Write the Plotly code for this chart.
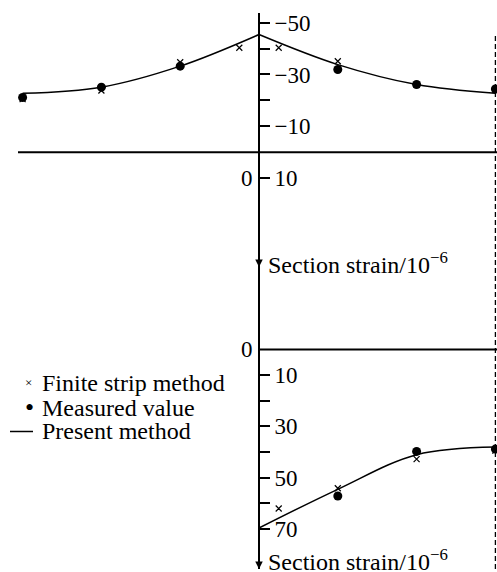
import plotly.graph_objects as go

# ---------------- data (strain, 10^-6; negative = compression) ----------------
# positions across the flange (web at 0)
top_present_left_x = [-3, -2, -1, 0]
top_present_left = [-22.7, -25.1, -33.2, -45.4]
top_present_right_x = [0, 1, 2, 3]
top_present_right = [-45.4, -33.8, -26.1, -22.7]

top_fsm_x = [-3, -2, -1, -0.25, 0.25, 1, 2, 3]
top_fsm = [-20.5, -23.8, -34.7, -40.3, -40.3, -35.1, -26.0, -24.0]

top_meas_x = [-3, -2, -1, 1, 2, 3]
top_meas = [-21.1, -25.1, -33.2, -31.9, -26.1, -24.4]

bot_present_x = [0, 1, 2, 3]
bot_present = [69.7, 54.6, 41.1, 38.1]

bot_fsm_x = [0.25, 1, 2, 3]
bot_fsm = [62.1, 54.2, 42.8, 39.5]

bot_meas_x = [1, 2, 3]
bot_meas = [57.2, 39.8, 38.9]

top_tickvals = [-50, -40, -30, -20, -10, 10]
top_ticktext = ["\u221250", "", "\u221230", "", "\u221210", "10"]
bot_tickvals = [10, 20, 30, 40, 50, 60, 70]
bot_ticktext = ["10", "", "30", "", "50", "", "70"]

legend_labels = ["Finite strip method", "Measured value", "Present method"]
axis_label = "Section strain/10<sup>\u22126</sup>"

# ---------------- layout geometry ----------------
W, H = 497, 572
WEB_PX = 259.0
UNIT_PX = 78.8
xr = [-WEB_PX / UNIT_PX, (W - WEB_PX) / UNIT_PX]

TOP_ZERO_PX, TOP_SCALE = 150.7, 2.6      # px per strain unit
BOT_ZERO_PX, BOT_SCALE = 348.7, 2.57
AX_TOP_PX, AX_MID_PX, AX_BOT_PX = 11, 266, 569

def pf(px):
    return 1 - px / H

top_range = [(AX_MID_PX - TOP_ZERO_PX) / TOP_SCALE, (AX_TOP_PX - TOP_ZERO_PX) / TOP_SCALE]
bot_range = [(AX_BOT_PX - BOT_ZERO_PX) / BOT_SCALE, (AX_MID_PX - BOT_ZERO_PX) / BOT_SCALE]

FONT = "Liberation Serif"
BLACK = "#000000"
TICK_SIZE = 23
TEXT_SIZE = 24

fig = go.Figure()

line_style = dict(color=BLACK, width=1.5, shape="spline")
fsm_marker = dict(symbol="x-thin", size=6, line=dict(color=BLACK, width=1.2), color=BLACK)
meas_marker = dict(symbol="circle", size=9, color=BLACK)

fig.add_trace(go.Scatter(x=top_present_left_x, y=top_present_left, mode="lines", line=line_style, yaxis="y"))
fig.add_trace(go.Scatter(x=top_present_right_x, y=top_present_right, mode="lines", line=line_style, yaxis="y"))
fig.add_trace(go.Scatter(x=top_fsm_x, y=top_fsm, mode="markers", marker=fsm_marker, yaxis="y"))
fig.add_trace(go.Scatter(x=top_meas_x, y=top_meas, mode="markers", marker=meas_marker, yaxis="y"))

fig.add_trace(go.Scatter(x=bot_present_x, y=bot_present, mode="lines", line=line_style, yaxis="y2"))
fig.add_trace(go.Scatter(x=bot_fsm_x, y=bot_fsm, mode="markers", marker=fsm_marker, yaxis="y2"))
fig.add_trace(go.Scatter(x=bot_meas_x, y=bot_meas, mode="markers", marker=meas_marker, yaxis="y2"))

axis_pos = WEB_PX / W
common_y = dict(anchor="free", position=axis_pos, side="right", showline=True, linecolor=BLACK,
                linewidth=1.8, ticks="outside", ticklen=10, tickwidth=1.5, tickcolor=BLACK,
                showgrid=False, zeroline=False, tickfont=dict(family=FONT, size=TICK_SIZE, color=BLACK),
                tickmode="array", fixedrange=True)

fig.update_layout(
    width=W, height=H, margin=dict(l=0, r=0, t=0, b=0, pad=0),
    paper_bgcolor="white", plot_bgcolor="white", showlegend=False,
    xaxis=dict(range=xr, visible=False, domain=[0, 1], fixedrange=True),
    yaxis=dict(domain=[pf(AX_MID_PX), pf(AX_TOP_PX)], range=top_range,
               tickvals=top_tickvals, ticktext=top_ticktext, **common_y),
    yaxis2=dict(domain=[pf(AX_BOT_PX), pf(AX_MID_PX)], range=bot_range,
                tickvals=bot_tickvals, ticktext=bot_ticktext, **common_y),
)

# flange lines and dashed symmetry line
fig.add_shape(type="line", xref="x", yref="y", x0=xr[0] + 18 / UNIT_PX, x1=xr[1] + 0.1, y0=0, y1=0,
              line=dict(color=BLACK, width=2))
fig.add_shape(type="line", xref="x", yref="y2", x0=0, x1=xr[1] + 0.1, y0=0, y1=0,
              line=dict(color=BLACK, width=2))
fig.add_shape(type="line", xref="x", yref="paper", x0=3, x1=3, y0=pf(AX_BOT_PX), y1=pf(33),
              line=dict(color=BLACK, width=1.3, dash="5px,3px"))

# zero labels on left of web
fig.add_annotation(x=0, y=10, xref="x", yref="y", text="0", showarrow=False, xanchor="right",
                   xshift=-4, font=dict(family=FONT, size=TICK_SIZE, color=BLACK))
fig.add_annotation(x=0, y=0, xref="x", yref="y2", text="0", showarrow=False, xanchor="right",
                   xshift=-4, font=dict(family=FONT, size=TICK_SIZE, color=BLACK))

# axis labels with arrows
fig.add_annotation(x=0, y=(261.7 - TOP_ZERO_PX) / TOP_SCALE, xref="x", yref="y", text=axis_label,
                   showarrow=False, xanchor="left", xshift=7, font=dict(family=FONT, size=TEXT_SIZE, color=BLACK))
fig.add_annotation(x=0, y=(559.5 - BOT_ZERO_PX) / BOT_SCALE, xref="x", yref="y2", text=axis_label,
                   showarrow=False, xanchor="left", xshift=7, font=dict(family=FONT, size=TEXT_SIZE, color=BLACK))
for yv, yr in [((AX_MID_PX - TOP_ZERO_PX) / TOP_SCALE, "y"), ((AX_BOT_PX - BOT_ZERO_PX) / BOT_SCALE, "y2")]:
    fig.add_annotation(x=0, y=yv, xref="x", yref=yr, text="", showarrow=True, ax=0, ay=-8,
                       arrowhead=2, arrowsize=1, arrowwidth=1.5, arrowcolor=BLACK)

# manual legend
rows_px = [382, 407, 431]
for lab, ypx in zip(legend_labels, rows_px):
    fig.add_annotation(x=40 / W, y=pf(ypx), xref="paper", yref="paper", text=lab, showarrow=False,
                       xanchor="left", yanchor="middle", font=dict(family=FONT, size=TEXT_SIZE, color=BLACK))
fig.add_annotation(x=28 / W, y=pf(rows_px[0]), xref="paper", yref="paper", text="\u00d7", showarrow=False,
                   xanchor="center", yanchor="middle", font=dict(family=FONT, size=13, color=BLACK))
fig.add_annotation(x=29 / W, y=pf(rows_px[1]), xref="paper", yref="paper", text="\u2022", showarrow=False,
                   xanchor="center", yanchor="middle", font=dict(family=FONT, size=26, color=BLACK))
fig.add_shape(type="line", xref="paper", yref="paper", x0=10 / W, x1=33 / W, y0=pf(rows_px[2]),
              y1=pf(rows_px[2]), line=dict(color=BLACK, width=1.5))

fig.write_html("out.html", config={"displayModeBar": False},
               post_script="document.body.style.margin='0';document.body.style.overflow='hidden';")
